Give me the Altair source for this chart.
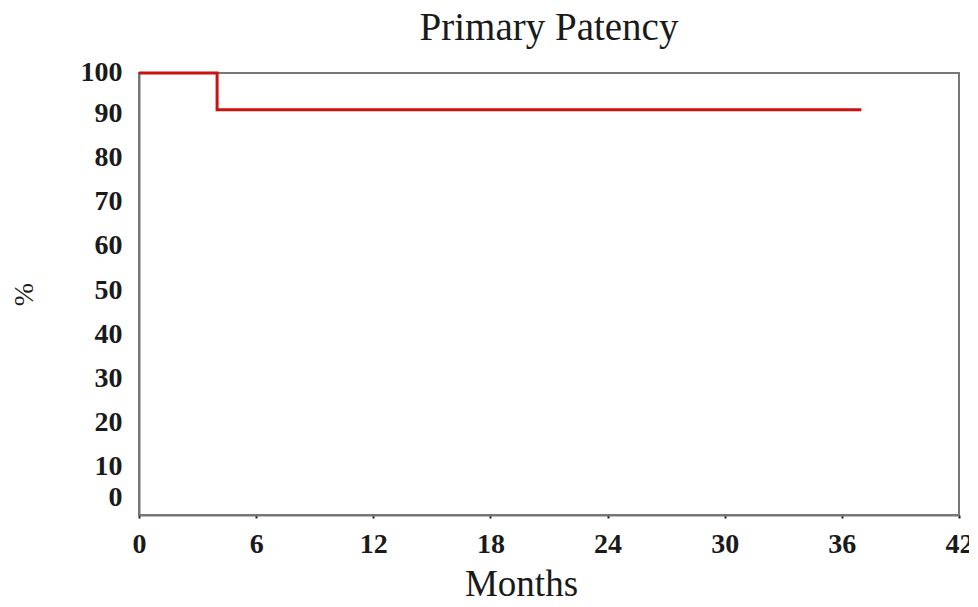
import altair as alt
import pandas as pd

months = [0, 4, 37]
patency = [100, 91.7, 91.7]
x_ticks = [0, 6, 12, 18, 24, 30, 36, 42]
y_ticks = [0, 10, 20, 30, 40, 50, 60, 70, 80, 90, 100]

df = pd.DataFrame({"Months": months, "Pct": patency})

FONT = "Liberation Serif"
TXT = "#1a1a1a"

chart = alt.Chart(df).mark_line(
    color="#cc1111", strokeWidth=3, interpolate="step-after"
).encode(
    x=alt.X("Months:Q", scale=alt.Scale(domain=[0, 42], nice=False),
            axis=alt.Axis(values=x_ticks, title="Months", grid=False,
                          domainColor="#777777", domainWidth=2,
                          tickColor="#222222", tickSize=3, tickWidth=2,
                          labelFont=FONT, labelFontSize=28, labelColor=TXT,
                          labelFontWeight="bold", labelFlush=False, labelOverlap=False,
                          labelPadding=12, titleFont=FONT, titleFontSize=37,
                          titleX=382, titleAlign="center",
                          titleFontWeight="normal", titleColor=TXT, titlePadding=8)),
    y=alt.Y("Pct:Q", scale=alt.Scale(domain=[0, 100], nice=False),
            axis=alt.Axis(values=y_ticks, title="%", grid=False,
                          domainColor="#777777", domainWidth=2,
                          ticks=False, labelFont=FONT, labelFontSize=28,
                          labelFontWeight="bold", labelOverlap=False,
                          labelColor=TXT, labelPadding=17,
                          labelOffset={"expr": "datum.value == 0 ? -18 : (datum.value == 100 ? -1 : -4)"},
                          titleFont=FONT, titleFontSize=28, titleFontWeight="normal",
                          titleColor=TXT, titlePadding=42)),
).properties(
    width=820, height=442,
    title=alt.TitleParams("Primary Patency", font=FONT, fontSize=39,
                          fontWeight="normal", color=TXT, anchor="middle", offset=10),
    autosize=alt.AutoSizeParams(type="none"),
    padding={"left": 131, "top": 65, "right": 10, "bottom": 82},
).configure_view(stroke="#777777", strokeWidth=2)

chart.save("out.html", embed_options={"renderer": "svg", "actions": False})
